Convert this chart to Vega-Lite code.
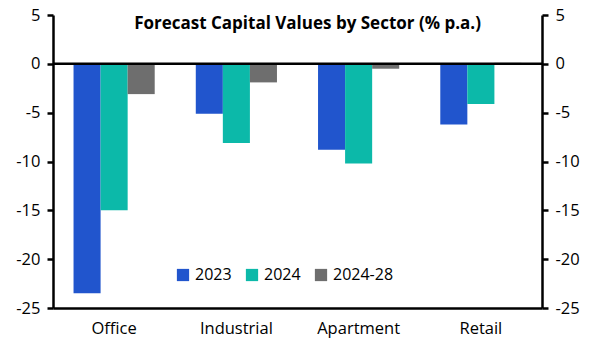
{
  "$schema": "https://vega.github.io/schema/vega-lite/v6.json",
  "width": 489,
  "height": 293,
  "autosize": {"type": "none"},
  "padding": {"left": 53, "top": 15, "right": 56, "bottom": 44},
  "background": "white",
  "config": {
    "view": {"stroke": null},
    "font": "Open Sans",
    "axis": {"labelFont": "Open Sans", "labelFontSize": 16.5, "labelColor": "black", "grid": false, "title": null, "domainColor": "black", "tickColor": "black"},
    "legend": {"labelFont": "Open Sans", "labelFontSize": 16, "labelColor": "black"}
  },
  "title": {
    "text": "Forecast Capital Values by Sector (% p.a.)",
    "font": "Open Sans",
    "fontSize": 17,
    "fontWeight": "bold",
    "color": "black",
    "anchor": "middle",
    "offset": -26,
    "dx": 10
  },
  "layer": [
    {
      "data": {"values": [
        {"sector": "Office", "series": "2023", "value": -23.5},
        {"sector": "Office", "series": "2024", "value": -15.0},
        {"sector": "Office", "series": "2024-28", "value": -3.1},
        {"sector": "Industrial", "series": "2023", "value": -5.1},
        {"sector": "Industrial", "series": "2024", "value": -8.1},
        {"sector": "Industrial", "series": "2024-28", "value": -1.9},
        {"sector": "Apartment", "series": "2023", "value": -8.8},
        {"sector": "Apartment", "series": "2024", "value": -10.2},
        {"sector": "Apartment", "series": "2024-28", "value": -0.5},
        {"sector": "Retail", "series": "2023", "value": -6.2},
        {"sector": "Retail", "series": "2024", "value": -4.1},
        {"sector": "Retail", "series": "2024-28", "value": 0.1}
      ]},
      "mark": {"type": "bar"},
      "encoding": {
        "x": {
          "field": "sector", "type": "nominal", "sort": null,
          "scale": {"paddingInner": 0.336, "paddingOuter": 0.168},
          "axis": {"labelAngle": 0, "ticks": false, "domainWidth": 2.5, "labelPadding": 12}
        },
        "xOffset": {"field": "series", "type": "nominal", "scale": {"paddingInner": 0, "paddingOuter": 0}},
        "y": {
          "field": "value", "type": "quantitative",
          "scale": {"domain": [-25, 5], "nice": false, "zero": false},
          "axis": {"orient": "left", "values": [-25, -20, -15, -10, -5, 0, 5], "domainWidth": 2.5, "tickWidth": 2.5, "tickSize": 6, "labelPadding": 7, "labelExpr": "replace(datum.label, '\u2212', '-')"}
        },
        "color": {
          "field": "series", "type": "nominal",
          "scale": {"domain": ["2023", "2024", "2024-28"], "range": ["#2155CD", "#0CB9A9", "#6E6E6E"]},
          "legend": {"title": null, "orient": "none", "direction": "horizontal", "legendX": 122, "legendY": 252, "symbolType": "square", "symbolSize": 150, "symbolStrokeWidth": 0, "columnPadding": 12, "labelOffset": 4}
        }
      }
    },
    {
      "data": {"values": [{"y": 0}]},
      "mark": {"type": "rule", "color": "black", "strokeWidth": 2.5},
      "encoding": {
        "y": {
          "field": "y", "type": "quantitative",
          "scale": {"domain": [-25, 5], "nice": false, "zero": false},
          "axis": {"orient": "right", "values": [-25, -20, -15, -10, -5, 0, 5], "domainWidth": 2.5, "tickWidth": 2.5, "tickSize": 6, "labelPadding": 7, "labelExpr": "replace(datum.label, '\u2212', '-')"}
        }
      }
    }
  ],
  "resolve": {"axis": {"y": "independent"}}
}
